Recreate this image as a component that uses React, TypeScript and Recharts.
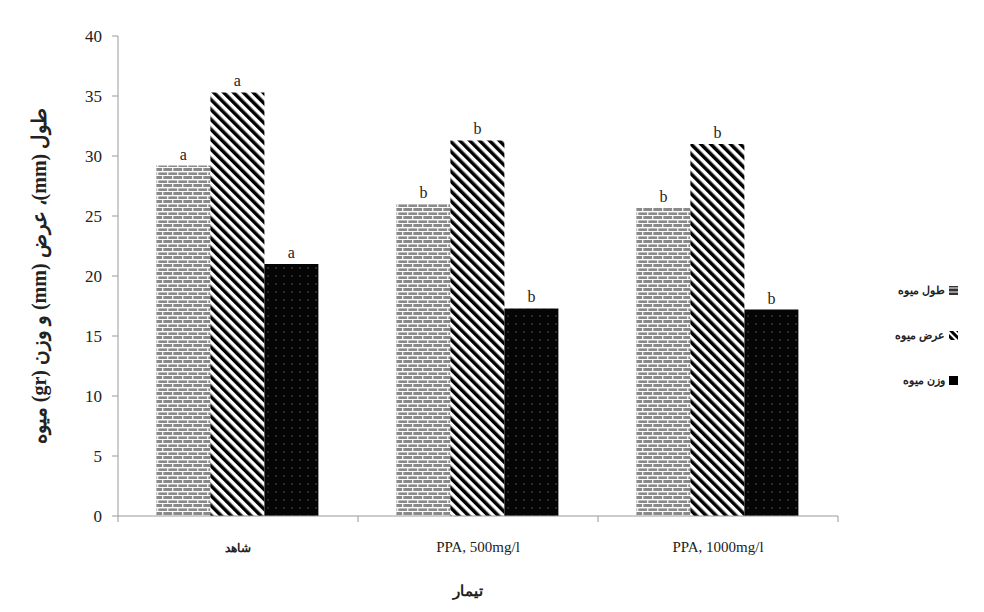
import { BarChart, Bar, XAxis, YAxis, LabelList } from 'recharts'

document.body.style.margin = '0'

const treatments = ['شاهد', 'PPA, 500mg/l', 'PPA, 1000mg/l']
const fruitLength = [29.2, 26.0, 25.7]
const fruitWidth = [35.3, 31.3, 31.0]
const fruitWeight = [21.0, 17.3, 17.2]
const lengthLetters = ['a', 'b', 'b']
const widthLetters = ['a', 'b', 'b']
const weightLetters = ['a', 'b', 'b']
const yTicks = [0, 5, 10, 15, 20, 25, 30, 35, 40]

const seriesNames = ['طول میوه', 'عرض میوه', 'وزن میوه']

const data = treatments.map((t, i) => ({
	name: t,
	length: fruitLength[i],
	width: fruitWidth[i],
	weight: fruitWeight[i],
	lengthSig: lengthLetters[i],
	widthSig: widthLetters[i],
	weightSig: weightLetters[i]
}))

const font = '"Liberation Serif", "DejaVu Serif", serif'

const sigLabel = (props: any) => {
	const { x, y, width, value } = props
	return (
		<text
			x={x + width / 2}
			y={y - 6}
			textAnchor='middle'
			fontFamily={font}
			fontSize={16}
			fill='#222'
		>
			{value}
		</text>
	)
}

// tick marks sit on the category boundaries, not the centres
const CategoryTick = (props: any) => {
	const { x, y, payload, index, visibleTicksCount } = props
	const half = 120
	const isLatin = /[A-Za-z]/.test(payload.value)
	return (
		<g>
			<line x1={x - half} y1={y - 8} x2={x - half} y2={y - 2} stroke='#999' />
			{index === visibleTicksCount - 1 && (
				<line x1={x + half} y1={y - 8} x2={x + half} y2={y - 2} stroke='#999' />
			)}
			<text
				x={x}
				y={y + 28}
				textAnchor='middle'
				fontFamily={font}
				fontSize={isLatin ? 15 : 12}
				fontWeight={isLatin ? 'normal' : 'bold'}
				fill='#222'
			>
				{payload.value}
			</text>
		</g>
	)
}

const legendFills = ['url(#brickL)', 'url(#diagL)', '#000']

const LegendBox = () => (
	<div
		style={{
			position: 'absolute',
			left: 862,
			top: 268,
			width: 96,
			fontFamily: font,
			direction: 'rtl'
		}}
	>
		{seriesNames.map((n, i) => (
			<div
				key={n}
				style={{
					display: 'flex',
					alignItems: 'center',
					height: 45,
					fontSize: 11,
					fontWeight: 'bold',
					color: '#222'
				}}
			>
				<svg width={9} height={9} style={{ marginLeft: 4 }}>
					<defs>
						<pattern id='brickL' patternUnits='userSpaceOnUse' width={5} height={4}>
							<rect width={5} height={4} fill='#333' />
							<rect y={1.5} width={5} height={1} fill='#fff' />
						</pattern>
						<pattern
							id='diagL'
							patternUnits='userSpaceOnUse'
							width={5}
							height={5}
							patternTransform='rotate(-45)'
						>
							<rect width={5} height={5} fill='#fff' />
							<rect width={3} height={5} fill='#000' />
						</pattern>
					</defs>
					<rect width={9} height={9} fill={legendFills[i]} />
				</svg>
				<span>{n}</span>
			</div>
		))}
	</div>
)

function App() {
	return (
		<div style={{ width: 984, height: 612, background: '#fff', position: 'relative' }}>
			<BarChart
				width={984}
				height={612}
				data={data}
				margin={{ top: 36, right: 146, left: 58, bottom: 36 }}
				barCategoryGap='16%'
				barGap={0}
			>
				<defs>
					<pattern id='brick' patternUnits='userSpaceOnUse' width={10} height={8}>
						<rect width={10} height={8} fill='#8a8a8a' />
						<rect y={3} width={10} height={1.4} fill='#fff' />
						<rect y={7} width={10} height={1.4} fill='#fff' />
						<rect x={2} y={0} width={1.4} height={3} fill='#eee' />
						<rect x={7} y={4} width={1.4} height={3} fill='#eee' />
					</pattern>
					<pattern
						id='diag'
						patternUnits='userSpaceOnUse'
						width={7}
						height={7}
						patternTransform='rotate(-45)'
					>
						<rect width={7} height={7} fill='#fff' />
						<rect width={3.5} height={7} fill='#000' />
					</pattern>
					<pattern id='dots' patternUnits='userSpaceOnUse' width={8} height={8}>
						<rect width={8} height={8} fill='#050505' />
						<circle cx={4} cy={4} r={0.8} fill='#555' />
					</pattern>
				</defs>
				<XAxis
					dataKey='name'
					axisLine={{ stroke: '#999' }}
					tickLine={false}
					tick={<CategoryTick />}
					interval={0}
					height={60}
				/>
				<YAxis
					domain={[0, 40]}
					ticks={yTicks}
					width={60}
					axisLine={{ stroke: '#999' }}
					tickLine={{ stroke: '#999' }}
					tickSize={6}
					tick={{ fontFamily: font, fontSize: 17, fill: '#222', dx: -8 }}
				/>
				<Bar dataKey='length' fill='url(#brick)' isAnimationActive={false}>
					<LabelList dataKey='lengthSig' content={sigLabel} />
				</Bar>
				<Bar dataKey='width' fill='url(#diag)' isAnimationActive={false}>
					<LabelList dataKey='widthSig' content={sigLabel} />
				</Bar>
				<Bar dataKey='weight' fill='url(#dots)' isAnimationActive={false}>
					<LabelList dataKey='weightSig' content={sigLabel} />
				</Bar>
				<text
					transform='translate(46, 276) rotate(-90)'
					textAnchor='middle'
					direction='rtl'
					fontFamily={font}
					fontSize={20}
					fontWeight='bold'
					fill='#222'
				>
					طول (mm)، عرض (mm) و وزن (gr) میوه
				</text>
				<text
					x={468}
					y={596}
					textAnchor='middle'
					fontFamily={font}
					fontSize={15}
					fontWeight='bold'
					fill='#222'
				>
					تیمار
				</text>
			</BarChart>
			<LegendBox />
		</div>
	)
}

export default App
